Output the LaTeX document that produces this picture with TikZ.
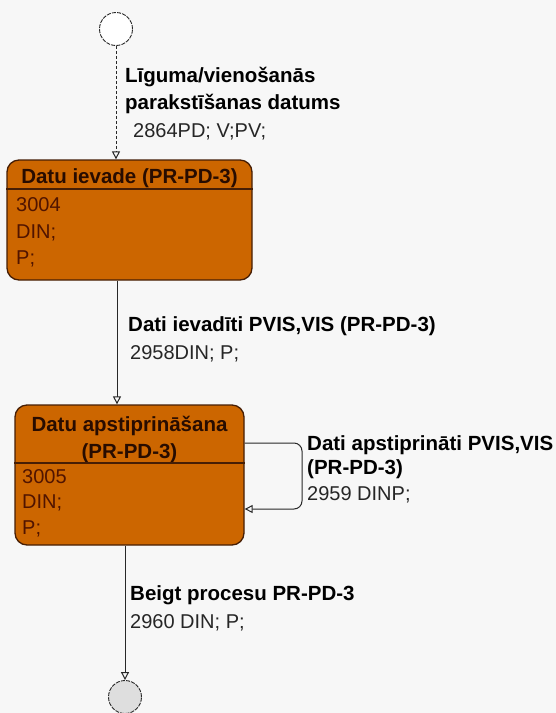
\documentclass[tikz,border=0pt]{standalone}
\usepackage{fontspec}
\setmainfont{Liberation Sans}
\usetikzlibrary{arrows.meta}
\definecolor{bg}{RGB}{247,247,247}
\definecolor{boxfill}{RGB}{204,102,0}
\definecolor{boxline}{RGB}{70,30,5}
\definecolor{boxtitle}{RGB}{40,12,0}
\definecolor{boxtext}{RGB}{80,20,0}
\definecolor{conn}{RGB}{40,40,40}
\definecolor{endfill}{RGB}{222,222,222}
\tikzset{
  statebox/.style={draw=boxline, line width=1.3pt, fill=boxfill, rounded corners=12pt, inner sep=0pt},
  pseudo/.style={circle, draw=conn, line width=0.9pt, dash pattern=on 4pt off 1.2pt, inner sep=0pt, minimum size=33pt},
  conline/.style={draw=conn, line width=1pt, -{Triangle[open,length=8pt,width=8pt]}},
  lbold/.style={anchor=base west, inner sep=0pt, font=\fontsize{20.5}{26}\selectfont\bfseries, text=black},
  lreg/.style={anchor=base west, inner sep=0pt, font=\fontsize{20}{26}\selectfont, text=black!85},
  btitle/.style={anchor=base, inner sep=0pt, font=\fontsize{20.5}{26}\selectfont\bfseries, text=boxtitle},
  breg/.style={anchor=base west, inner sep=0pt, font=\fontsize{20}{26}\selectfont, text=boxtext},
  sepline/.style={draw=boxline, line width=1.2pt}
}
\begin{document}
\begin{tikzpicture}[x=1pt,y=-1pt]
\fill[bg] (0,0) rectangle (556,713);
\useasboundingbox (0,0) rectangle (556,713);

% start and end pseudo states
\node[pseudo, fill=white] (s) at (116,29) {};
\node[pseudo, fill=endfill] (e) at (125,697) {};

% state boxes
\node[statebox, minimum width=245pt, minimum height=120pt] (b1) at (129.5,220) {};
\node[statebox, minimum width=229pt, minimum height=140pt] (b2) at (129.5,475) {};

% box 1 content
\node[btitle] (t1) at (129.5,183) {Datu ievade (PR-PD-3)};
\coordinate (sep1) at (0,189);
\draw[sepline] (b1.west |- sep1) -- (b1.east |- sep1);
\node[breg] (b1l1) at (16,211) {3004};
\node[breg] (b1l2) at (16,238) {DIN;};
\node[breg] (b1l3) at (16,264) {P;};

% box 2 content
\node[btitle] (t2a) at (129.5,431) {Datu apstiprināšana};
\node[btitle] (t2b) at (129.5,458) {(PR-PD-3)};
\coordinate (sep2) at (0,463);
\draw[sepline] (b2.west |- sep2) -- (b2.east |- sep2);
\node[breg] (b2l1) at (22,483) {3005};
\node[breg] (b2l2) at (22,508) {DIN;};
\node[breg] (b2l3) at (22,534) {P;};

% connectors
\draw[conline, densely dashed] (s.south) -- (s.south |- b1.north);
\coordinate (m12) at (117,0);
\draw[conline] (m12 |- b1.south) -- (m12 |- b2.north);
\coordinate (loopa) at (0,443);
\coordinate (loopb) at (302,509);
\draw[conline, rounded corners=8pt] (b2.east |- loopa) -| (loopb) -- (b2.east |- loopb);
\draw[conline] (e |- b2.south) -- (e.north);

% labels
\node[lbold] (l1a) at (125,82) {Līguma/vienošanās};
\node[lbold] (l1b) at (125,109) {parakstīšanas datums};
\node[lreg] (l1c) at (133,137) {2864PD; V;PV;};

\node[lbold] (l2a) at (128,331) {Dati ievadīti PVIS,VIS (PR-PD-3)};
\node[lreg] (l2b) at (130,359) {2958DIN; P;};

\node[lbold] (l3a) at (307,450) {Dati apstiprināti PVIS,VIS};
\node[lbold] (l3b) at (307,474) {(PR-PD-3)};
\node[lreg] (l3c) at (307,500) {2959 DINP;};

\node[lbold] (l4a) at (130,600) {Beigt procesu PR-PD-3};
\node[lreg] (l4b) at (130,628) {2960 DIN; P;};
\end{tikzpicture}
\end{document}
